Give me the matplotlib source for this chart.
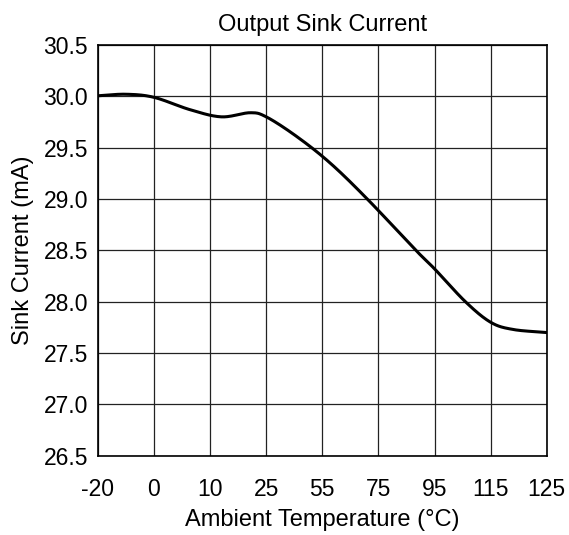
import numpy as np
import matplotlib
matplotlib.use("Agg")
import matplotlib.pyplot as plt

plt.rcParams['font.family'] = ['Liberation Sans', 'DejaVu Sans']

# Category tick labels (evenly spaced on the axis)
temp_labels = ["-20", "0", "10", "25", "55", "75", "95", "115", "125"]
# Curve samples: position along category axis (fractional index) and current (mA)
curve_pos = [0, 0.5, 1.0, 1.64, 2.2, 2.71, 3.0, 3.54, 4.14, 4.81, 5.65, 6.0, 6.55, 7.0, 7.4, 8.0]
curve_ma = [30.005, 30.02, 29.99, 29.87, 29.80, 29.84, 29.80, 29.61, 29.35, 28.995, 28.51, 28.32, 28.0, 27.80, 27.73, 27.70]
y_ticks = [26.5, 27.0, 27.5, 28.0, 28.5, 29.0, 29.5, 30.0, 30.5]


def catmull_rom(x, y, n=30):
    x = np.asarray(x, float); y = np.asarray(y, float)
    px = np.concatenate([[2*x[0]-x[1]], x, [2*x[-1]-x[-2]]])
    py = np.concatenate([[2*y[0]-y[1]], y, [2*y[-1]-y[-2]]])
    ox, oy = [], []
    for i in range(1, len(px)-2):
        t = np.linspace(0, 1, n, endpoint=False)
        for arr, out in ((px, ox), (py, oy)):
            p0, p1, p2, p3 = arr[i-1], arr[i], arr[i+1], arr[i+2]
            out.extend(0.5*((2*p1) + (-p0+p2)*t + (2*p0-5*p1+4*p2-p3)*t**2 + (-p0+3*p1-3*p2+p3)*t**3))
    ox.append(x[-1]); oy.append(y[-1])
    return np.array(ox), np.array(oy)


fig = plt.figure(figsize=(5.69, 5.35), dpi=100)
ax = fig.add_axes([0.172, 0.148, 0.789, 0.768])

sx, sy = catmull_rom(curve_pos, curve_ma)
ax.plot(sx, sy, color='black', lw=2.2, solid_capstyle='round', zorder=3)

ax.set_xlim(0, len(temp_labels)-1)
ax.set_ylim(26.5, 30.5)
ax.set_xticks(range(len(temp_labels)))
ax.set_xticklabels(temp_labels)
ax.set_yticks(y_ticks)
ax.set_yticklabels([f"{v:.1f}" for v in y_ticks])
ax.tick_params(axis='x', length=0, labelsize=16.5, pad=16)
ax.tick_params(axis='y', length=0, labelsize=16.5, pad=7)
ax.grid(True, color='#222222', lw=0.9)
for s in ax.spines.values():
    s.set_color('black'); s.set_linewidth(1.2)

ax.set_title("Output Sink Current", fontsize=17, pad=10)
ax.set_xlabel("Ambient Temperature (°C)", fontsize=17, labelpad=6)
ax.set_ylabel("Sink Current (mA)", fontsize=17, labelpad=7)

fig.savefig("out.png", dpi=100)
